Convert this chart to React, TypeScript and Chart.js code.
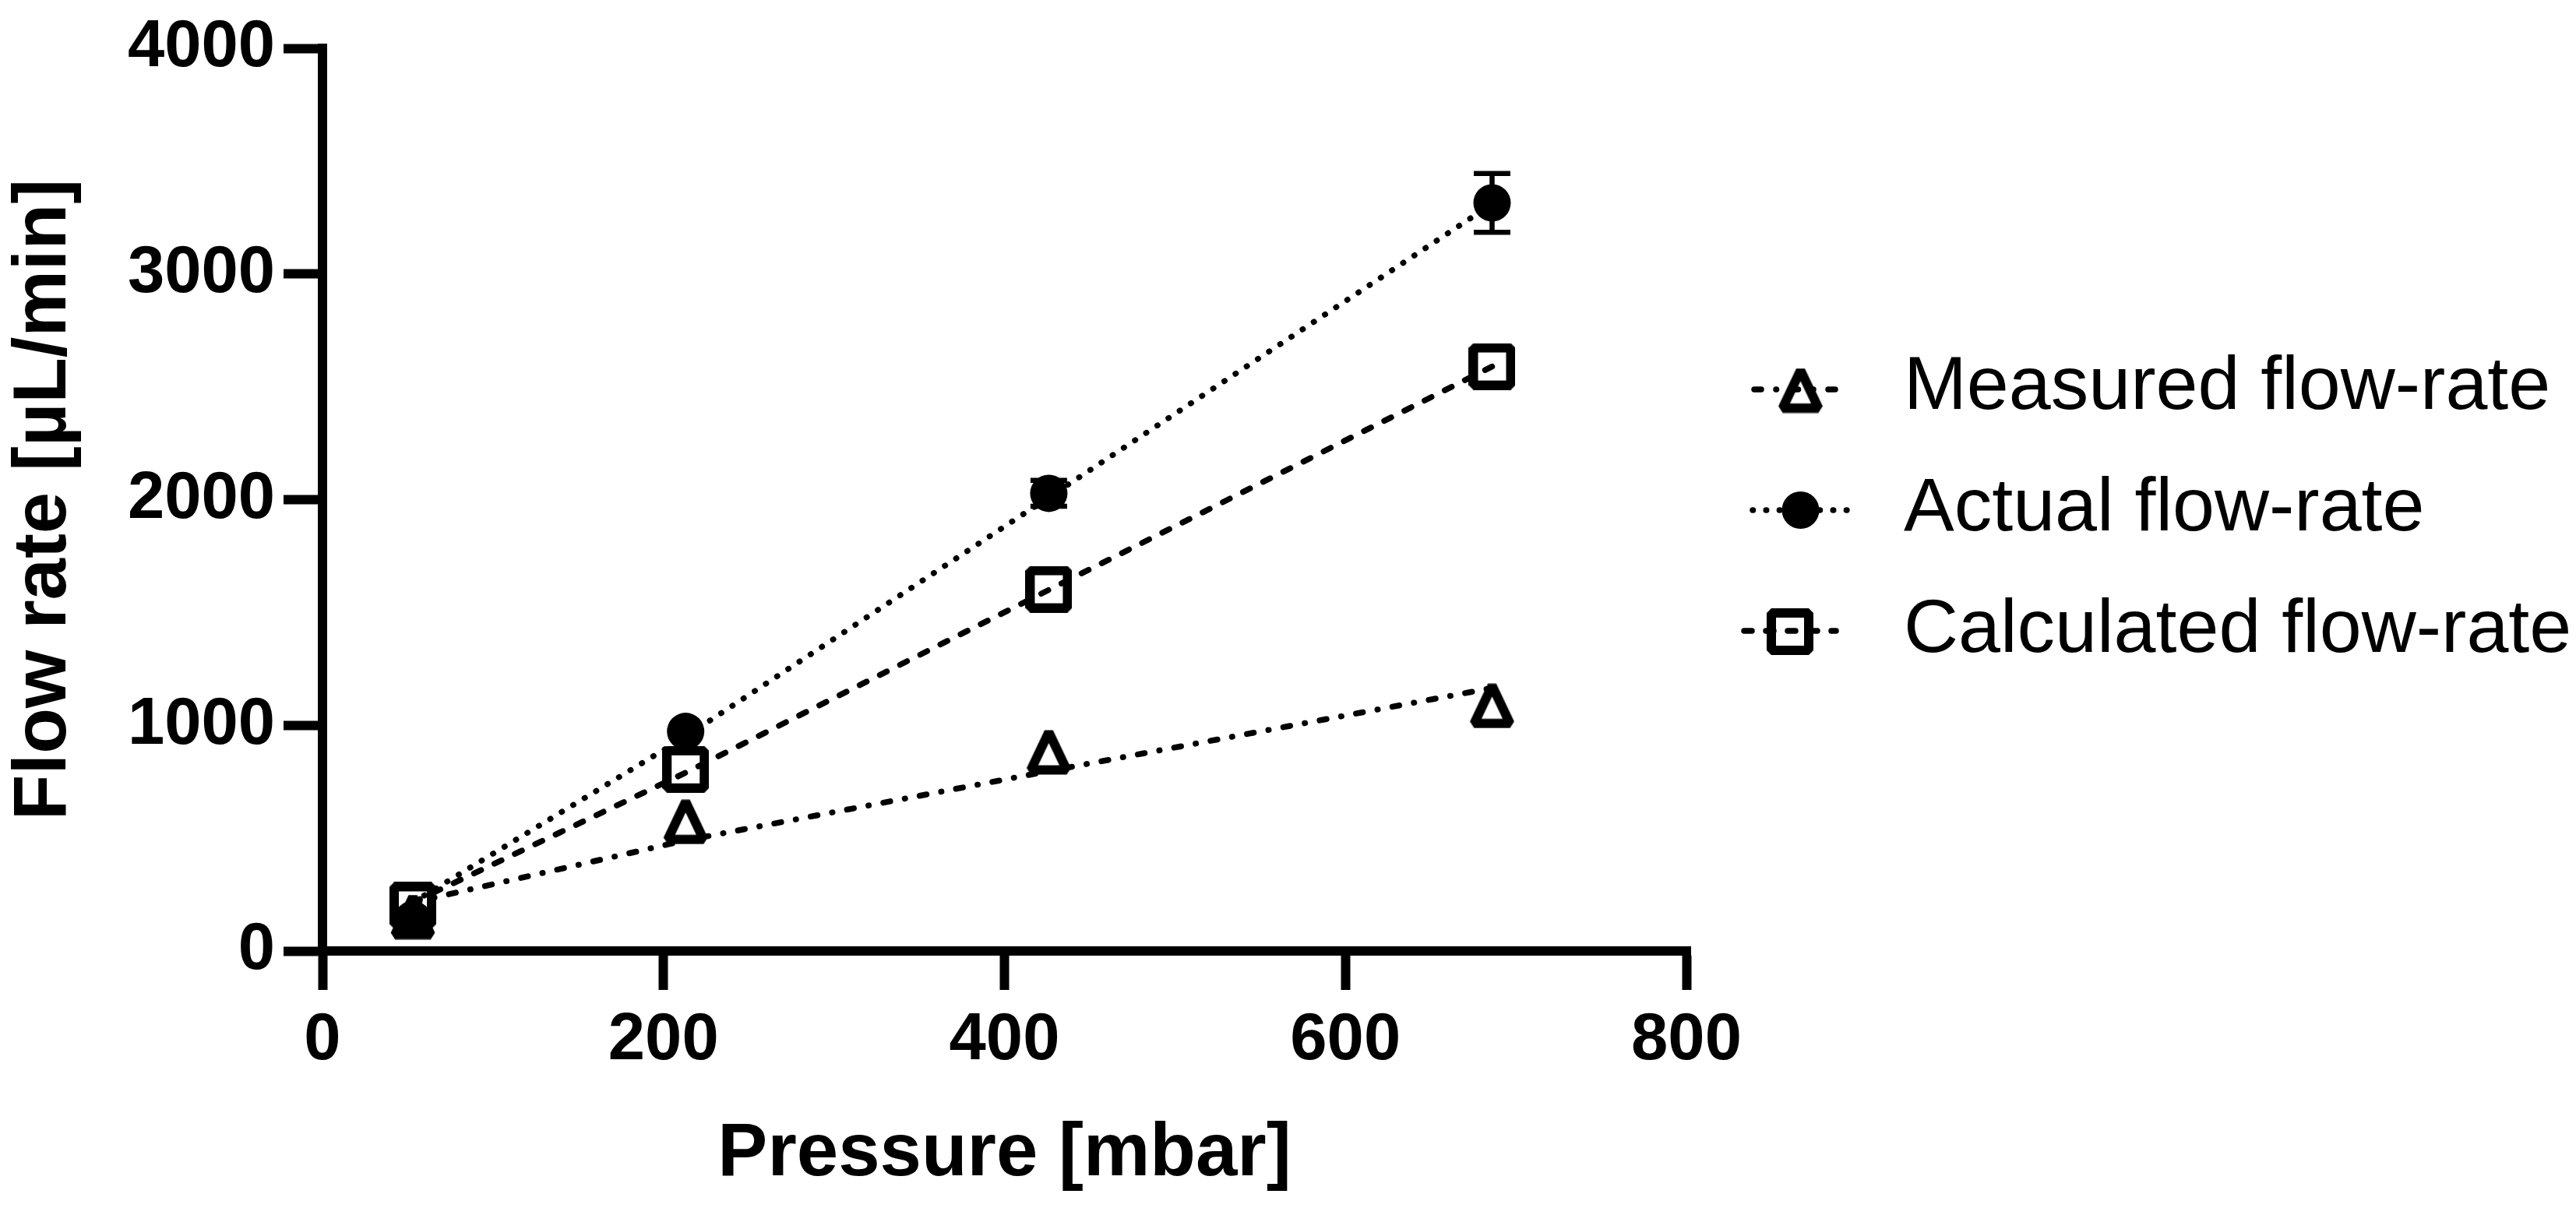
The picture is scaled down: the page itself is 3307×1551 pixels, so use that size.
import React, { useEffect, useRef } from 'react';
import { Chart, registerables } from 'chart.js';

Chart.register(...registerables);

// ---- data ----
const pressure = [53, 213, 426, 686];
const measured = [150, 572, 880, 1086];
const actual = [140, 973, 2028, 3315];
const actualErr = [0, 0, 57, 130];
const calculated = [202, 805, 1603, 2590];
const measuredFit = [215, 490, 797, 1165];
const actualFit = [215, 950, 2010, 3310];
const calculatedFit = [215, 790, 1600, 2590];
const seriesNames = ['Measured flow-rate', 'Actual flow-rate', 'Calculated flow-rate'];
const xTitle = 'Pressure [mbar]';
const yTitle = 'Flow rate [µL/min]';

const FONT = '"Liberation Sans", Arial, Helvetica, sans-serif';
const DASH_DOT = [9, 19, 0.5, 19];
const DOT = [0.5, 16.7];
const DASH = [10, 19];
const LINE_W = 7.5;

const pts = (ys: number[]) => pressure.map((x, i) => ({ x, y: ys[i] }));

function makeTriangle(): HTMLCanvasElement {
  const c = document.createElement('canvas');
  c.width = 58;
  c.height = 58;
  const g = c.getContext('2d')!;
  g.strokeStyle = '#000';
  g.lineWidth = 12;
  g.lineJoin = 'bevel';
  g.beginPath();
  g.moveTo(29, 3);
  g.lineTo(52, 51.5);
  g.lineTo(6, 51.5);
  g.closePath();
  g.stroke();
  return c;
}

function makeSquare(): HTMLCanvasElement {
  const c = document.createElement('canvas');
  c.width = 60;
  c.height = 60;
  const g = c.getContext('2d')!;
  g.strokeStyle = '#000';
  g.lineWidth = 12;
  g.lineJoin = 'bevel';
  g.strokeRect(6, 6, 48, 48);
  return c;
}

export default function App() {
  const ref = useRef<HTMLCanvasElement>(null);
  useEffect(() => {
    if (!ref.current) return;
    const tri = makeTriangle();
    const sq = makeSquare();

    const errorBarPlugin = {
      id: 'errorBars',
      afterDatasetsDraw(chart: any) {
        const { ctx, scales } = chart;
        const xs = scales.x;
        const ys = scales.y;
        ctx.save();
        ctx.strokeStyle = '#000';
        ctx.lineWidth = 6.5;
        ctx.setLineDash([]);
        pressure.forEach((p, i) => {
          const e = actualErr[i];
          if (!e) return;
          const px = xs.getPixelForValue(p);
          const top = ys.getPixelForValue(actual[i] + e);
          const bot = ys.getPixelForValue(actual[i] - e);
          ctx.beginPath();
          ctx.moveTo(px, top);
          ctx.lineTo(px, bot);
          ctx.moveTo(px - 23.5, top);
          ctx.lineTo(px + 23.5, top);
          ctx.moveTo(px - 23.5, bot);
          ctx.lineTo(px + 23.5, bot);
          ctx.stroke();
        });
        ctx.restore();
      },
    };

    const axisCornerPlugin = {
      id: 'axisCorners',
      afterDraw(chart: any) {
        const { ctx, chartArea } = chart;
        ctx.save();
        ctx.fillStyle = '#000';
        ctx.fillRect(chartArea.left - 6, chartArea.top - 6, 12, 7);
        ctx.fillRect(chartArea.left - 6, chartArea.bottom - 1, 12, 7);
        ctx.fillRect(chartArea.right - 1, chartArea.bottom - 6, 7, 12);
        ctx.restore();
      },
    };

    const legendPlugin = {
      id: 'customLegend',
      afterDraw(chart: any) {
        const { ctx } = chart;
        const rows = [
          { ty: 498, ly: 500, my: 501.5, mx: 2311.5, x0: 2252, x1: 2375, dash: DASH_DOT, marker: 'triangle' },
          { ty: 654, ly: 655, my: 655, mx: 2311.5, x0: 2250, x1: 2371, dash: DOT, marker: 'circle' },
          { ty: 810, ly: 810, my: 811, mx: 2298, x0: 2239, x1: 2357, dash: [10, 18], marker: 'square' },
        ];
        rows.forEach((r, i) => {
          ctx.save();
          ctx.strokeStyle = '#000';
          ctx.lineWidth = LINE_W;
          ctx.lineCap = 'round';
          ctx.setLineDash(r.dash);
          ctx.beginPath();
          ctx.moveTo(r.x0, r.ly);
          ctx.lineTo(r.x1, r.ly);
          ctx.stroke();
          ctx.restore();
          ctx.save();
          ctx.fillStyle = '#000';
          if (r.marker === 'circle') {
            ctx.beginPath();
            ctx.arc(r.mx, r.my, 24, 0, Math.PI * 2);
            ctx.fill();
          } else {
            const img = r.marker === 'triangle' ? tri : sq;
            ctx.drawImage(img, r.mx - img.width / 2, r.my - img.height / 2);
          }
          ctx.font = `97px ${FONT}`;
          ctx.textAlign = 'left';
          ctx.textBaseline = 'middle';
          ctx.fillText(seriesNames[i], 2444, r.ty);
          ctx.restore();
        });
      },
    };

    const lineDs = (label: string, ys: number[], dash: number[]) => ({
      label,
      data: pts(ys),
      showLine: true,
      borderColor: '#000',
      borderWidth: LINE_W,
      borderDash: dash,
      borderCapStyle: 'round',
      pointRadius: 0,
      pointHoverRadius: 0,
      fill: false,
      tension: 0,
    });

    const chart = new Chart(ref.current, {
      type: 'scatter',
      data: {
        datasets: [
          {
            label: seriesNames[2],
            data: pts(calculated),
            showLine: false,
            pointStyle: sq,
            pointRadius: 30,
          },
          {
            label: seriesNames[1],
            data: pts(actual),
            showLine: false,
            pointStyle: 'circle',
            pointRadius: 24,
            pointBorderWidth: 0,
            pointBorderColor: '#000',
            pointBackgroundColor: '#000',
          },
          {
            label: seriesNames[0],
            data: pts(measured),
            showLine: false,
            pointStyle: tri,
            pointRadius: 29,
          },
          lineDs('Measured fit', measuredFit, DASH_DOT),
          lineDs('Actual fit', actualFit, DOT),
          lineDs('Calculated fit', calculatedFit, DASH),
        ] as any,
      },
      options: {
        animation: false,
        responsive: true,
        maintainAspectRatio: false,
        devicePixelRatio: 1,
        layout: { padding: { top: 52, right: 1142, bottom: 0, left: 0 } },
        plugins: { legend: { display: false }, tooltip: { enabled: false } },
        scales: {
          x: {
            type: 'linear',
            min: 0,
            max: 800,
            ticks: {
              stepSize: 200,
              color: '#000',
              padding: 15,
              font: { family: FONT, size: 85, weight: 'bold' },
              callback: (v: any) => String(v),
            },
            grid: {
              drawOnChartArea: false,
              drawTicks: true,
              tickLength: 50,
              tickWidth: 12,
              tickColor: '#000',
              color: '#000',
            },
            border: { display: true, width: 12, color: '#000' },
            title: {
              display: true,
              text: xTitle,
              color: '#000',
              font: { family: FONT, size: 96, weight: 'bold' },
              padding: { top: 0, bottom: 11 },
            },
            afterFit: (s: any) => {
              s.height = 330;
            },
          },
          y: {
            type: 'linear',
            min: 0,
            max: 4000,
            ticks: {
              stepSize: 1000,
              color: '#000',
              padding: 11,
              font: { family: FONT, size: 85, weight: 'bold' },
              callback: (v: any) => String(v),
            },
            grid: {
              drawOnChartArea: false,
              drawTicks: true,
              tickLength: 50,
              tickWidth: 12,
              tickColor: '#000',
              color: '#000',
            },
            border: { display: true, width: 12, color: '#000' },
            title: {
              display: true,
              text: yTitle,
              color: '#000',
              font: { family: FONT, size: 96, weight: 'bold' },
              padding: { top: 0, bottom: 0 },
            },
            afterFit: (s: any) => {
              s.width = 414;
            },
          },
        },
      } as any,
      plugins: [errorBarPlugin, axisCornerPlugin, legendPlugin],
    });
    return () => chart.destroy();
  }, []);
  return (
    <div style={{ position: 'absolute', left: 0, top: 0, width: 3307, height: 1551, background: '#fff' }}>
      <canvas ref={ref} />
    </div>
  );
}
